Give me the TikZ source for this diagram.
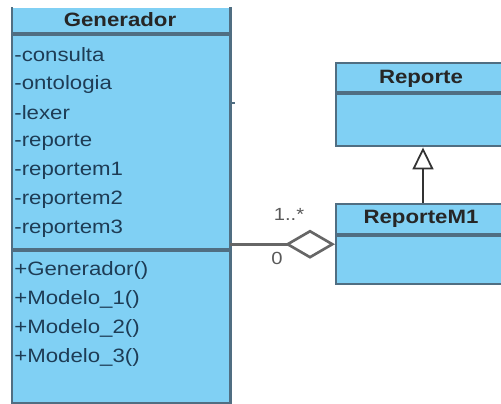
\documentclass[tikz,border=0pt]{standalone}
\usepackage{fontspec}
\setmainfont[FakeStretch=1.15]{Liberation Sans}
\usetikzlibrary{arrows.meta}
\definecolor{umlfill}{RGB}{128,208,244}
\definecolor{umlline}{RGB}{80,110,130}
\definecolor{umltext}{RGB}{30,60,85}
\tikzset{
  classbox/.style={fill=umlfill, draw=umlline, line width=1.4pt, inner sep=0pt, anchor=north west},
  member/.style={anchor=west, inner sep=0pt, text=umltext, font=\fontsize{11}{13}\selectfont},
  title/.style={inner sep=0pt, text=black!85, font=\bfseries\fontsize{11}{13}\selectfont},
  sep/.style={umlline, line width=1.8pt},
  mult/.style={inner sep=0pt, text=black!65, font=\fontsize{10}{12}\selectfont},
  inherit/.style={-{Triangle[open, length=0.44cm, width=0.42cm]}, black!80, line width=1pt},
  aggr/.style={{Diamond[open, length=1cm, width=0.58cm]}-, black!60, line width=1.5pt}
}
\begin{document}
\begin{tikzpicture}[x=0.02cm, y=-0.02cm]
\useasboundingbox (0,0) rectangle (501,403);

% Generador
\node[classbox, draw=none, minimum width=4.32cm, minimum height=7.88cm] (gen) at (12,7) {};
\draw[umlline, line width=1.4pt] (gen.north west) -- (gen.south west) -- (gen.south east) -- (gen.north east);
\draw[sep] (gen.west |- 0,34) -- (gen.east |- 0,34);
\draw[sep] (gen.west |- 0,250) -- (gen.east |- 0,250);
\draw[umlline, line width=1.4pt] (gen.east |- 0,103) -- ++(5,0);
\node[title] (gentitle) at (120,20) {Generador};
\foreach \name [count=\i] in {consulta,ontologia,lexer,reporte,reportem1,reportem2,reportem3}
  \node[member] (attr\i) at (14,{26+29*\i}) {-\name};
\foreach \name [count=\i] in {Generador(),Modelo\_1(),Modelo\_2(),Modelo\_3()}
  \node[member] (meth\i) at (14,{241+29*\i}) {+\name};

% Reporte
\node[classbox, minimum width=3.8cm, minimum height=1.66cm] (rep) at (335,62) {};
\draw[sep] (rep.west |- 0,93) -- (rep.east |- 0,93);
\node[title] (reptitle) at (421,79) {Reporte};

% ReporteM1
\node[classbox, minimum width=3.8cm, minimum height=1.6cm] (rm1) at (335,203) {};
\draw[sep] (rm1.west |- 0,235) -- (rm1.east |- 0,235);
\node[title] (rm1title) at (421,219) {ReporteM1};

% relaciones
\draw[inherit] (rm1.north -| 423,0) -- (rep.south -| 423,0);
\draw[aggr] (rm1.west) -- (gen.east |- rm1.west);
\node[mult] (multa) at (289,214) {1..*};
\node[mult] (multb) at (277,258) {0};
\end{tikzpicture}
\end{document}
